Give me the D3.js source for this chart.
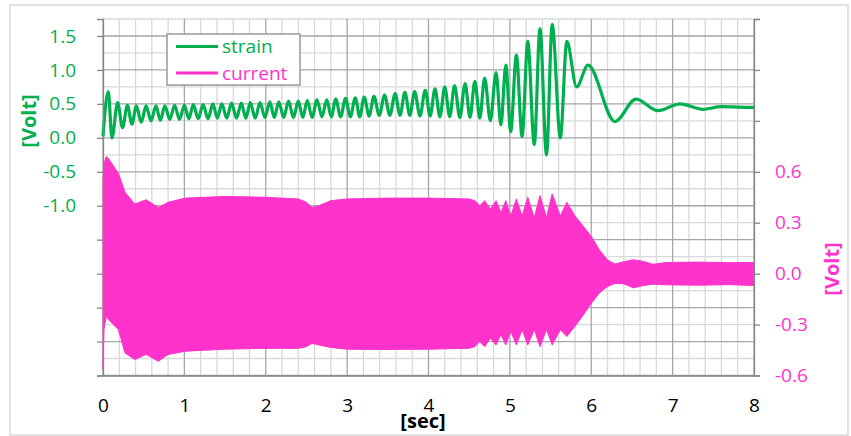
<!DOCTYPE html>
<html>
<head>
<meta charset="utf-8">
<script src="https://cdn.jsdelivr.net/npm/d3@7"></script>
<style>
  body { margin: 0; background: #fff; }
  text { font-family: "Open Sans", "Liberation Sans", sans-serif; }
</style>
</head>
<body>
<svg id="chart" width="851" height="436"></svg>
<script>
// strain signal: turning points (time in sec, left axis in volt)
const strainTime = [
  0, 0.065, 0.11, 0.18, 0.24, 0.30, 0.355, 0.41, 0.47, 0.53,
  0.59, 0.65, 0.705, 0.76, 0.82, 0.88, 0.94, 1.00, 1.055, 1.11,
  1.17, 1.23, 1.29, 1.35, 1.405, 1.46, 1.52, 1.58, 1.64, 1.70,
  1.755, 1.81, 1.87, 1.93, 1.99, 2.05, 2.105, 2.16, 2.22, 2.28,
  2.34, 2.40, 2.455, 2.51, 2.57, 2.63, 2.69, 2.75, 2.805, 2.86,
  2.92, 2.98, 3.04, 3.10, 3.155, 3.21, 3.27, 3.33, 3.395, 3.46,
  3.525, 3.59, 3.65, 3.71, 3.77, 3.83, 3.895, 3.96, 4.02, 4.08,
  4.14, 4.20, 4.26, 4.32, 4.385, 4.45, 4.51, 4.57, 4.63, 4.69,
  4.76, 4.83, 4.89, 4.95, 5.01, 5.08, 5.15, 5.22, 5.30, 5.37,
  5.45, 5.52, 5.62, 5.70, 5.82, 5.96, 6.29, 6.55, 6.82, 7.09,
  7.37, 7.6, 7.9, 8.0
];
const strainVolt = [
  0.02, 0.68, 0.00, 0.52, 0.15, 0.48, 0.20, 0.47, 0.23, 0.47,
  0.25, 0.47, 0.26, 0.47, 0.27, 0.48, 0.27, 0.48, 0.28, 0.49,
  0.28, 0.49, 0.28, 0.50, 0.29, 0.50, 0.29, 0.51, 0.29, 0.51,
  0.29, 0.52, 0.29, 0.52, 0.30, 0.53, 0.30, 0.53, 0.30, 0.54,
  0.30, 0.54, 0.30, 0.55, 0.30, 0.56, 0.31, 0.56, 0.31, 0.57,
  0.31, 0.58, 0.31, 0.59, 0.31, 0.60, 0.32, 0.61, 0.33, 0.63,
  0.33, 0.65, 0.33, 0.67, 0.33, 0.68, 0.32, 0.70, 0.32, 0.72,
  0.31, 0.75, 0.31, 0.77, 0.30, 0.80, 0.30, 0.83, 0.29, 0.88,
  0.25, 0.96, 0.19, 1.07, 0.09, 1.22, 0.02, 1.42, -0.10, 1.61,
  -0.25, 1.67, 0.00, 1.42, 0.75, 1.07, 0.24, 0.57, 0.40, 0.50,
  0.42, 0.46, 0.45, 0.45
];

// current signal: envelope of the fast oscillation (right axis in volt)
const currentTime = [
  0, 0.012, 0.04, 0.065, 0.19, 0.27, 0.39, 0.53, 0.68, 0.80,
  1.01, 1.5, 2.0, 2.4, 2.5, 2.57, 2.65, 2.8, 3.0, 3.5,
  4.0, 4.5, 4.57, 4.63, 4.69, 4.76, 4.83, 4.89, 4.95, 5.01,
  5.08, 5.15, 5.22, 5.30, 5.37, 5.45, 5.52, 5.62, 5.70, 5.80,
  5.90, 6.00, 6.10, 6.20, 6.29, 6.40, 6.52, 6.64, 6.76, 6.92,
  7.3, 7.7, 8.0
];
const currentUpper = [
  0.56, 0.65, 0.69, 0.68, 0.59, 0.48, 0.41, 0.435, 0.39, 0.42,
  0.445, 0.455, 0.45, 0.44, 0.42, 0.39, 0.40, 0.43, 0.44, 0.445,
  0.445, 0.44, 0.43, 0.40, 0.43, 0.38, 0.43, 0.36, 0.43, 0.34,
  0.44, 0.34, 0.45, 0.33, 0.46, 0.33, 0.47, 0.34, 0.42, 0.34,
  0.28, 0.22, 0.14, 0.08, 0.057, 0.07, 0.082, 0.072, 0.055, 0.066,
  0.068, 0.065, 0.066
];
const currentLower = [
  -0.565, -0.33, -0.25, -0.27, -0.33, -0.467, -0.506, -0.476, -0.516, -0.476,
  -0.457, -0.445, -0.44, -0.44, -0.43, -0.41, -0.42, -0.435, -0.445, -0.447,
  -0.445, -0.44, -0.43, -0.40, -0.43, -0.38, -0.42, -0.36, -0.42, -0.34,
  -0.42, -0.33, -0.42, -0.33, -0.43, -0.33, -0.42, -0.33, -0.37, -0.31,
  -0.245, -0.175, -0.114, -0.075, -0.058, -0.06, -0.084, -0.07, -0.062, -0.066,
  -0.068, -0.065, -0.07
];

// axis ticks and labels
const timeTicks = [0, 1, 2, 3, 4, 5, 6, 7, 8];
const leftTicks = [-3.5, -3.0, -2.5, -2.0, -1.5, -1.0, -0.5, 0.0, 0.5, 1.0, 1.5];
const leftLabelled = [-1.0, -0.5, 0.0, 0.5, 1.0, 1.5];
const rightTicks = [-0.6, -0.3, 0.0, 0.3, 0.6, 0.9, 1.2, 1.5];
const rightLabelled = [-0.6, -0.3, 0.0, 0.3, 0.6];
const seriesNames = ["strain", "current"];

const green = "#00B050", pink = "#FF33CC";

const svg = d3.select("#chart");

// outer frame
svg.append("rect")
  .attr("x", 10).attr("y", 5).attr("width", 838).attr("height", 430)
  .attr("fill", "#fff").attr("stroke", "#d9d9d9").attr("stroke-width", 1.5);

const x = d3.scaleLinear().domain([0, 8]).range([103, 754]);
const yL = d3.scaleLinear().domain([-3.5, 1.75]).range([375.5, 19]);
const yR = d3.scaleLinear().domain([-0.6, 1.5]).range([375.5, 19]);

// gridlines
const grid = svg.append("g");
const vLines = d3.range(0, 41).map(i => i / 5);
const hLines = d3.range(0, 22).map(i => -3.5 + i * 0.25);

grid.selectAll(".vminor")
  .data(vLines.filter(d => Math.abs(d - Math.round(d)) > 1e-6))
  .enter().append("line")
  .attr("x1", d => x(d)).attr("x2", d => x(d))
  .attr("y1", yL(1.75)).attr("y2", yL(-3.5))
  .attr("stroke", "#d9d9d9").attr("stroke-width", 1.3);

grid.selectAll(".hminor")
  .data(hLines.filter(d => Math.abs(d * 2 - Math.round(d * 2)) > 1e-6 || d === 1.75))
  .enter().append("line")
  .attr("x1", x(0)).attr("x2", x(8))
  .attr("y1", d => yL(d)).attr("y2", d => yL(d))
  .attr("stroke", "#d9d9d9").attr("stroke-width", 1.3);

grid.selectAll(".vmajor")
  .data(timeTicks)
  .enter().append("line")
  .attr("x1", d => x(d)).attr("x2", d => x(d))
  .attr("y1", yL(1.75)).attr("y2", yL(-3.5))
  .attr("stroke", "#a6a6a6").attr("stroke-width", 1.3);

grid.selectAll(".hmajor")
  .data(leftTicks)
  .enter().append("line")
  .attr("x1", x(0)).attr("x2", x(8))
  .attr("y1", d => yL(d)).attr("y2", d => yL(d))
  .attr("stroke", "#a6a6a6").attr("stroke-width", 1.3);

// current band
const currentData = currentTime.map((t, i) => ({t, hi: currentUpper[i], lo: currentLower[i]}));
const area = d3.area()
  .x(d => x(d.t))
  .y0(d => yR(d.lo))
  .y1(d => yR(d.hi));
svg.append("path")
  .datum(currentData)
  .attr("d", area)
  .attr("fill", pink)
  .attr("stroke", pink).attr("stroke-width", 1);

// strain line
const strainData = strainTime.map((t, i) => ({t, v: strainVolt[i]}));
const line = d3.line()
  .x(d => x(d.t))
  .y(d => yL(d.v))
  .curve(d3.curveMonotoneX);
svg.append("path")
  .datum(strainData)
  .attr("d", line)
  .attr("fill", "none")
  .attr("stroke", green).attr("stroke-width", 3.2)
  .attr("stroke-linejoin", "round");

// axes
const fmt = d => d.toFixed(1);

const leftAxis = svg.append("g")
  .attr("transform", `translate(${x(0)},0)`)
  .call(d3.axisLeft(yL).tickValues(leftTicks).tickSize(6).tickPadding(21)
    .tickFormat(d => leftLabelled.includes(d) ? fmt(d) : ""));

const rightAxis = svg.append("g")
  .attr("transform", `translate(${x(8)},0)`)
  .call(d3.axisRight(yR).tickValues(rightTicks).tickSize(6).tickPadding(15)
    .tickFormat(d => rightLabelled.includes(d) ? fmt(d) : ""));

const bottomAxis = svg.append("g")
  .attr("transform", `translate(0,${yL(-3.5)})`)
  .call(d3.axisBottom(x).tickValues(timeTicks).tickSize(0).tickPadding(23)
    .tickFormat(d => d));

[leftAxis, rightAxis, bottomAxis].forEach(g => {
  g.select(".domain").attr("stroke", "#868686").attr("stroke-width", 1.3);
  g.selectAll(".tick line").attr("stroke", "#868686").attr("stroke-width", 1.3);
  g.selectAll("text").style("font-size", "19px");
});
leftAxis.selectAll("text").attr("fill", green);
rightAxis.selectAll("text").attr("fill", pink);
bottomAxis.selectAll("text").attr("fill", "#000");

// axis titles
svg.append("text")
  .attr("transform", "translate(36,121) rotate(-90)")
  .attr("text-anchor", "middle")
  .attr("fill", green)
  .style("font-size", "20px").style("font-weight", "bold")
  .text("[Volt]");

svg.append("text")
  .attr("transform", "translate(839,269) rotate(-90)")
  .attr("text-anchor", "middle")
  .attr("fill", pink)
  .style("font-size", "20px").style("font-weight", "bold")
  .text("[Volt]");

svg.append("text")
  .attr("x", 423).attr("y", 427.5)
  .attr("text-anchor", "middle")
  .attr("fill", "#000")
  .style("font-size", "20px").style("font-weight", "bold")
  .text("[sec]");

// legend
const legend = svg.append("g");
legend.append("rect")
  .attr("x", 167).attr("y", 34).attr("width", 133).attr("height", 51)
  .attr("fill", "#fff").attr("stroke", "#999").attr("stroke-width", 1.5);

const legendRows = legend.selectAll(".row")
  .data(seriesNames)
  .enter().append("g")
  .attr("transform", (d, i) => `translate(176,${46.5 + i * 26.5})`);
legendRows.append("line")
  .attr("x1", 0).attr("x2", 42)
  .attr("stroke", (d, i) => i === 0 ? green : pink)
  .attr("stroke-width", 3.2);
legendRows.append("text")
  .attr("x", 46).attr("dy", "0.35em")
  .attr("fill", (d, i) => i === 0 ? green : pink)
  .style("font-size", "19px")
  .text(d => d);
</script>
</body>
</html>
